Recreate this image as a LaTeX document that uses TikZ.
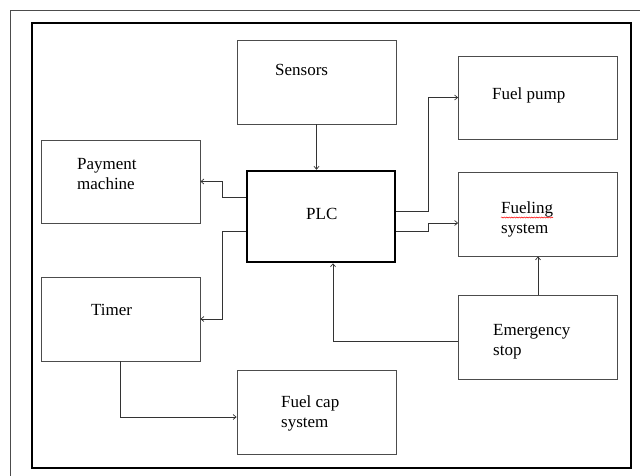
\documentclass[tikz,border=0pt]{standalone}
\usepackage{fontspec}
\setmainfont{Liberation Serif}
\usetikzlibrary{arrows.meta,decorations.pathmorphing}

\begin{document}
\begin{tikzpicture}[x=1pt,y=-1pt,
    blk/.style={draw=black!70,line width=0.8pt,minimum width=159pt,minimum height=84pt,inner sep=0pt},
    txt/.style={anchor=base west,inner sep=0pt,align=left,font=\fontsize{17}{20}\selectfont},
    wire/.style={draw=black!80,line width=0.7pt,-{Straight Barb[length=3pt,width=5pt]}}]
    \useasboundingbox (0,0) rectangle (640,475);
    % frames
    \draw[black!70,line width=1.5pt] (650,10.5) -- (10.5,10.5) -- (10.5,485);
    \draw[line width=2.5pt] (32,23) rectangle (631,468);
    % blocks
    \node[blk] (sensors) at (316.5,82) {};
    \node[blk,minimum height=83pt] (pump) at (538,97.5) {};
    \node[blk,minimum height=83pt] (payment) at (120.5,181.5) {};
    \node[blk] (fueling) at (538,214) {};
    \node[blk] (timer) at (120.5,319) {};
    \node[blk] (emerg) at (538,337) {};
    \node[blk] (cap) at (316.5,412) {};
    \node[blk,draw=black,line width=2.5pt,minimum width=148pt,minimum height=91pt] (plc) at (321,216.5) {};
    % labels (base = last line)
    \node[txt] (sensors-l) at (275,75) {Sensors};
    \node[txt] (pump-l) at (492,99) {Fuel pump};
    \node[txt] (payment-l) at (77,189) {Payment\\machine};
    \node[txt] (plc-l) at (306,219) {PLC};
    \node[txt] (fueling-l) at (501,233) {Fueling\\system};
    \node[txt] (timer-l) at (91,315) {Timer};
    \node[txt] (emerg-l) at (493,355) {Emergency\\stop};
    \node[txt] (cap-l) at (281,427) {Fuel cap\\system};
    \draw[red,line width=0.5pt,decorate,decoration={snake,amplitude=0.6pt,segment length=2.5pt}] (501,217.5) -- (553,217.5);
    % connectors
    \draw[wire] (sensors.south) -- (sensors.south |- plc.north);
    \draw[wire] ([yshift=5.5pt]plc.east) -| ++(32,0) |- (pump.west);
    \draw[wire] ([yshift=-14.5pt]plc.east) -| ++(32,0) |- ([yshift=-9pt]fueling.west);
    \draw[wire] ([yshift=19.5pt]plc.west) -| ++(-23,0) |- (payment.east);
    \draw[wire] ([yshift=-14.5pt]plc.west) -| ++(-23,0) |- (timer.east);
    \draw[wire] (timer.south) |- ([yshift=-5pt]cap.west);
    \draw[wire] ([yshift=-4pt]emerg.west) -| ([xshift=12pt]plc.south);
    \draw[wire] (emerg.north) -- (fueling.south);
\end{tikzpicture}
\end{document}
